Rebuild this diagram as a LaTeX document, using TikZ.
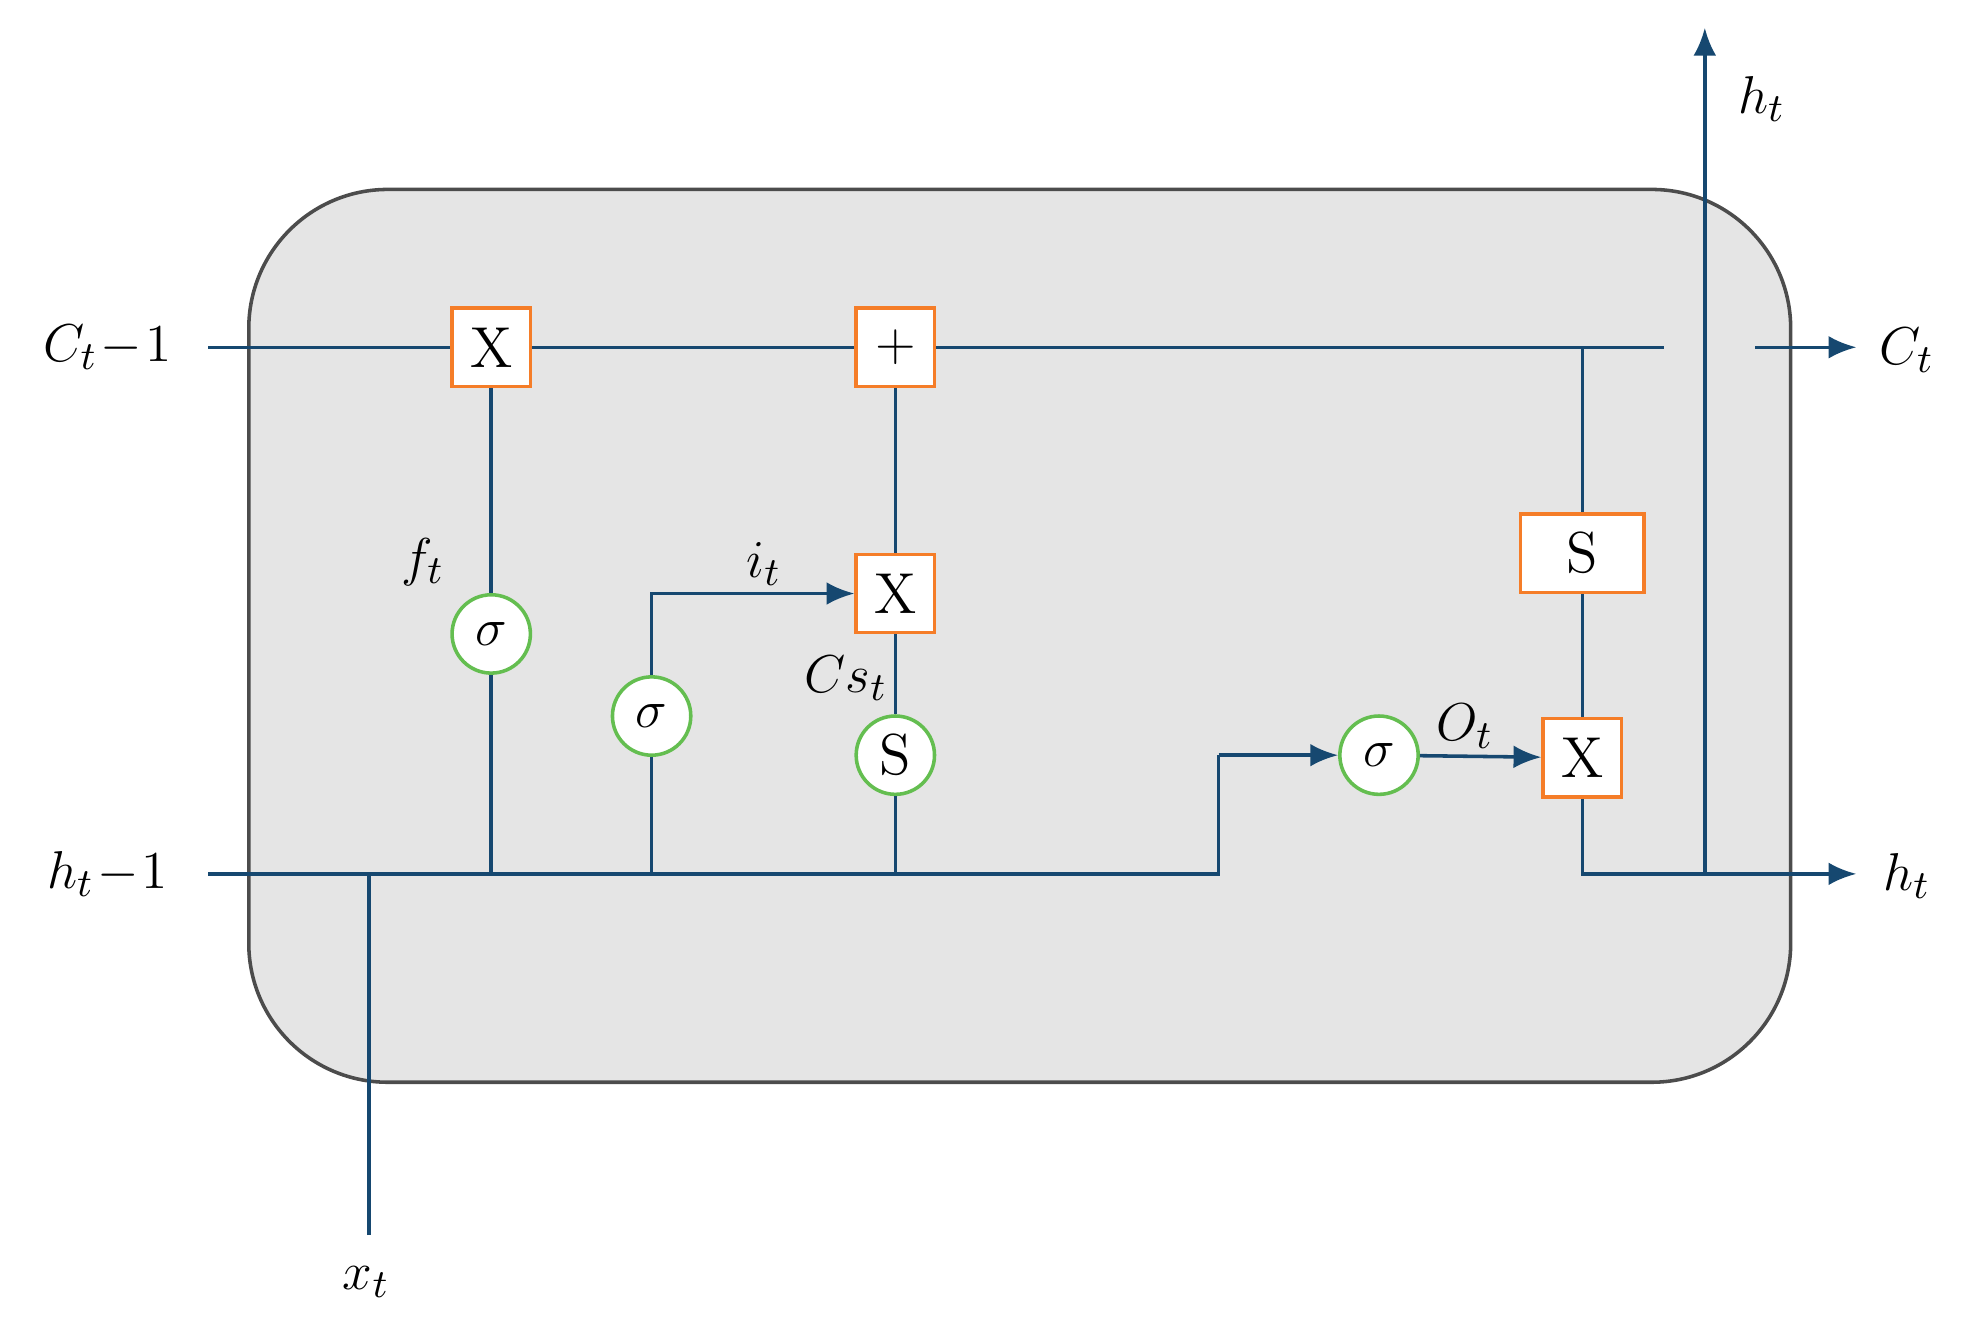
\documentclass[tikz,border=0pt]{standalone}
\usepackage{amsmath}
\usetikzlibrary{arrows.meta}
\definecolor{wire}{RGB}{22,72,112}
\definecolor{gateor}{RGB}{245,125,40}
\definecolor{gategr}{RGB}{100,190,80}
\begin{document}
\begin{tikzpicture}[x=0.01cm,y=-0.01cm]
            \tikzset{
            op node/.style={rectangle,draw=gateor,thick,fill=white,minimum size=0.62cm,inner sep=0,font=\fontsize{13}{14}\selectfont},
            act node/.style={circle,draw=gategr,thick,fill=white,minimum size=0.62cm,inner sep=0,font=\fontsize{13}{14}\selectfont},
            lbl/.style={font=\fontsize{13}{14}\selectfont},
            wire/.style={draw=wire,thick},
            arr/.style={wire,-{Latex[length=0.22cm,width=0.18cm]}}
            }
            \useasboundingbox (0,0) rectangle (1560,1057);
            \draw[fill=black!10,draw=black!70,thick,rounded corners=1.1cm] (197,150) rectangle (1418,857);

            \coordinate (cin) at (165,275);
            \coordinate (cend) at (1318,275);
            \coordinate (cout0) at (1390,275);
            \coordinate (cout) at (1470,275);
            \coordinate (hin) at (165,692);
            \coordinate (hturn) at (965,692);
            \coordinate (hup) at (965,598);
            \coordinate (hout) at (1470,692);
            \coordinate (htop) at (1350,22);
            \coordinate (hsplit) at (1350,692);
            \coordinate (xin) at (292,978);
            \coordinate (xjoin) at (292,692);
            \coordinate (fjoin) at (389,692);
            \coordinate (ijoin) at (516,692);
            \coordinate (ibend) at (516,470);
            \coordinate (sjoin) at (709,692);
            \coordinate (ctap) at (1253,275);
            \coordinate (ocorner) at (1253,692);

            \node[op node] (fx) at (389,275) {X};
            \node[op node] (cadd) at (709,275) {$+$};
            \node[act node] (fsig) at (389,502) {$\sigma$};
            \node[act node] (isig) at (516,567) {$\sigma$};
            \node[op node] (ix) at (709,470) {X};
            \node[act node] (cs) at (709,598) {S};
            \node[act node] (osig) at (1092,598) {$\sigma$};
            \node[op node] (ox) at (1253,600) {X};
            \node[op node,minimum width=0.98cm] (cts) at (1253,438) {S};

            \path[wire] (cin) -- (fx) (fx) -- (cadd) (cadd) -- (cend);
            \path[arr] (cout0) -- (cout);
            \path[wire] (fx) -- (fsig) (fsig) -- (fjoin);
            \path[wire] (isig) -- (ijoin);
            \path[arr] (isig) |- (ix);
            \path[wire] (cadd) -- (ix) (ix) -- (cs) (cs) -- (sjoin);
            \path[wire] (hin) -- (hturn) -- (hup);
            \path[arr] (hup) -- (osig);
            \path[arr] (osig) -- (ox);
            \path[wire] (ctap) -- (cts) (cts) -- (ox);
            \path[arr] (ox) |- (hout);
            \path[arr] (hsplit) -- (htop);
            \path[wire] (xin) -- (xjoin);

            \node[lbl] (lcin) at (85,275) {$C_t\!-\!1$};
            \node[lbl] (lcout) at (1510,277) {$C_t$};
            \node[lbl] (lhin) at (85,692) {$h_t\!-\!1$};
            \node[lbl] (lhout) at (1510,694) {$h_t$};
            \node[lbl] (lhtop) at (1395,78) {$h_t$};
            \node[lbl] (lx) at (290,1015) {$x_t$};
            \node[lbl] (lf) at (335,445) {$f_t$};
            \node[lbl] (li) at (605,447) {$i_t$};
            \node[lbl] (lcs) at (670,537) {$Cs_t$};
            \node[lbl] (lo) at (1160,575) {$O_t$};
        \end{tikzpicture}
\end{document}
